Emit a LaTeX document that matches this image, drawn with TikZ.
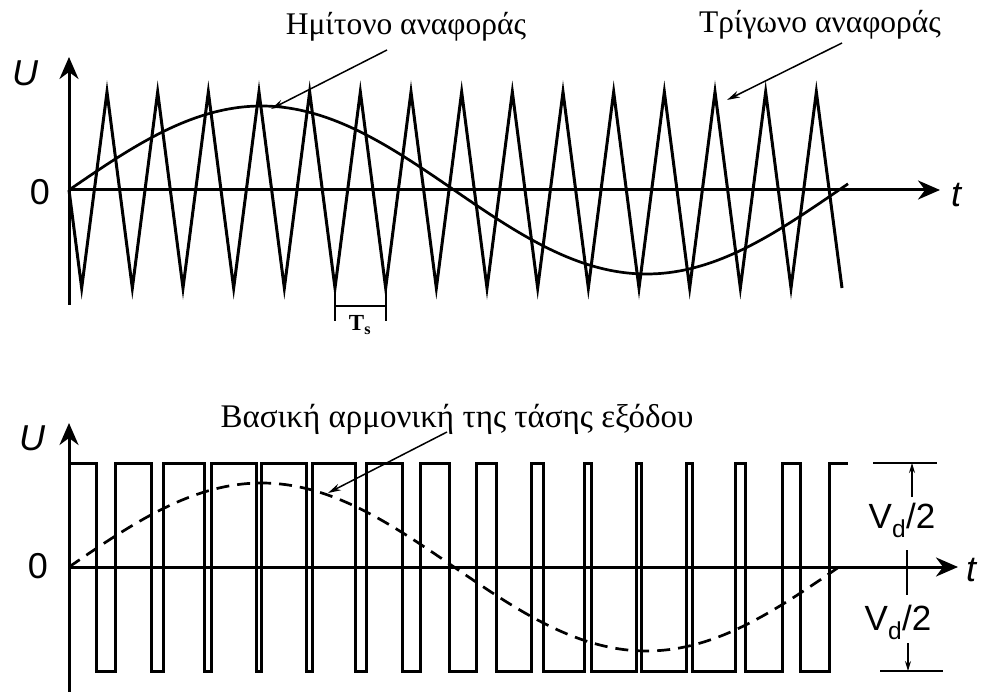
\documentclass[tikz,border=0pt]{standalone}
\usepackage{fontspec}
\setmainfont{Liberation Serif}
\setsansfont{Liberation Sans}
\usetikzlibrary{arrows.meta}
\begin{document}
\begin{tikzpicture}[x=1pt,y=-1pt,
  wave/.style={line width=3pt, line join=miter},
  sinew/.style={line width=2.7pt},
  axis/.style={line width=3pt,-{Stealth[length=22pt,width=19pt,inset=7pt]}},
  ann/.style={line width=1.5pt,-{Stealth[length=13pt,width=7pt]}},
  dim/.style={line width=1.1pt},
  dimarrow/.style={line width=1.1pt,-{Stealth[length=10pt,width=6pt]}},
  greek/.style={font=\fontsize{31.5}{36}\selectfont, inner sep=0pt},
  sym/.style={font=\sffamily\fontsize{36}{40}\selectfont, inner sep=0pt},
  symi/.style={font=\sffamily\itshape\fontsize{36}{40}\selectfont, inner sep=0pt},
]
\useasboundingbox[fill=white] (0,0) rectangle (982,692);

% ---------- top plot ----------
\coordinate (Ytop1) at (69,57);
\coordinate (Ybot1) at (69,305);
\coordinate (O1) at (69,190);
\coordinate (Xend1) at (940,190);
\draw[axis] (Ybot1) -- (Ytop1);
\draw[axis] (O1) -- (Xend1);
\node[symi] (U1) at (25,73) {U};
\node[sym] (Z1) at (40,192) {0};
\node[symi] (T1) at (956,195) {t};

% triangle carrier
\draw[wave] (O1) \foreach \k in {0,...,14} {
  -- ({69+12.667+50.667*\k},288) -- ({69+38+50.667*\k},92) } -- (842,288);

% reference sine
\draw[sinew] plot[domain=0:779, samples=140, smooth] ({69+\x},{190-84*sin(0.467532*\x)});

% Ts marker
\coordinate (Ts1a) at (335,290);
\coordinate (Ts1b) at (335,321);
\coordinate (Ts2a) at (386,290);
\coordinate (Ts2b) at (386,321);
\draw[dim] (Ts1a) -- (Ts1b);
\draw[dim] (Ts2a) -- (Ts2b);
\draw[dim] (335,306) -- (386,306);
\node[font=\bfseries\fontsize{23}{24}\selectfont, inner sep=0pt] (TsL) at (360,325) {T\textsubscript{s}};

% labels
\node[greek, anchor=base] (Lsin) at (406,35) {Ημίτονο αναφοράς};
\coordinate (Asin) at (387,50);
\coordinate (Psin) at (271,109);
\draw[ann] (Asin) -- (Psin);
\node[greek, anchor=base] (Ltri) at (820,33) {Τρίγωνο αναφοράς};
\coordinate (Atri) at (842,43);
\coordinate (Ptri) at (727,100);
\draw[ann] (Atri) -- (Ptri);

% ---------- bottom plot ----------
\coordinate (Ytop2) at (69,423);
\coordinate (Ybot2) at (69,692);
\coordinate (O2) at (69,567);
\coordinate (Xend2) at (958,567);
\draw[axis] (Ybot2) -- (Ytop2);
\draw[axis] (O2) -- (Xend2);
\node[symi] (U2) at (32,438) {U};
\node[sym] (Z2) at (38,566) {0};
\node[symi, anchor=west] (T2) at (966,570) {t};

% PWM output
\draw[wave] (69,463)
  \foreach \k [evaluate=\k as \r using {69+(25.3333+50.6667*\k)+10.4*sin(0.467532*((25.3333+50.6667*\k)+10.4*sin(0.467532*(25.3333+50.6667*\k))))},
               evaluate=\k as \f using {69+50.6667*(\k+1)-10.4*sin(0.467532*(50.6667*(\k+1)-10.4*sin(0.467532*50.6667*(\k+1))))}]
  in {0,...,14} { -- (\r,463) -- (\r,671) -- (\f,671) -- (\f,463) } -- (848,463);

% fundamental (dashed)
\draw[sinew, dash pattern=on 13pt off 8pt] plot[domain=0:770, samples=140, smooth] ({69+\x},{567-84*sin(0.467532*\x)});

\node[greek, font=\fontsize{33}{36}\selectfont, anchor=base] (Lfund) at (457,427) {Βασική αρμονική της τάσης εξόδου};
\coordinate (Afund) at (447,432);
\coordinate (Pfund) at (328,493);
\draw[ann] (Afund) -- (Pfund);

% Vd/2 dimensions
\coordinate (DTa) at (873,463);
\coordinate (DTb) at (937,463);
\coordinate (DBa) at (880,671);
\coordinate (DBb) at (943,671);
\draw[dim] (DTa) -- (DTb);
\draw[dim] (DBa) -- (DBb);
\coordinate (UpS) at (912,497);
\coordinate (UpE) at (912,463);
\coordinate (DnS) at (908,643);
\coordinate (DnE) at (908,671);
\draw[dimarrow] (UpS) -- (UpE);
\draw[dimarrow] (DnS) -- (DnE);
\coordinate (MidA) at (907,550);
\coordinate (MidB) at (907,595);
\draw[dim] (MidA) -- (MidB);
\node[font=\sffamily\fontsize{35}{40}\selectfont, inner sep=0pt, anchor=base] (Vd1) at (902,528) {V\textsubscript{d}/2};
\node[font=\sffamily\fontsize{35}{40}\selectfont, inner sep=0pt, anchor=base] (Vd2) at (898,630) {V\textsubscript{d}/2};
\end{tikzpicture}
\end{document}
